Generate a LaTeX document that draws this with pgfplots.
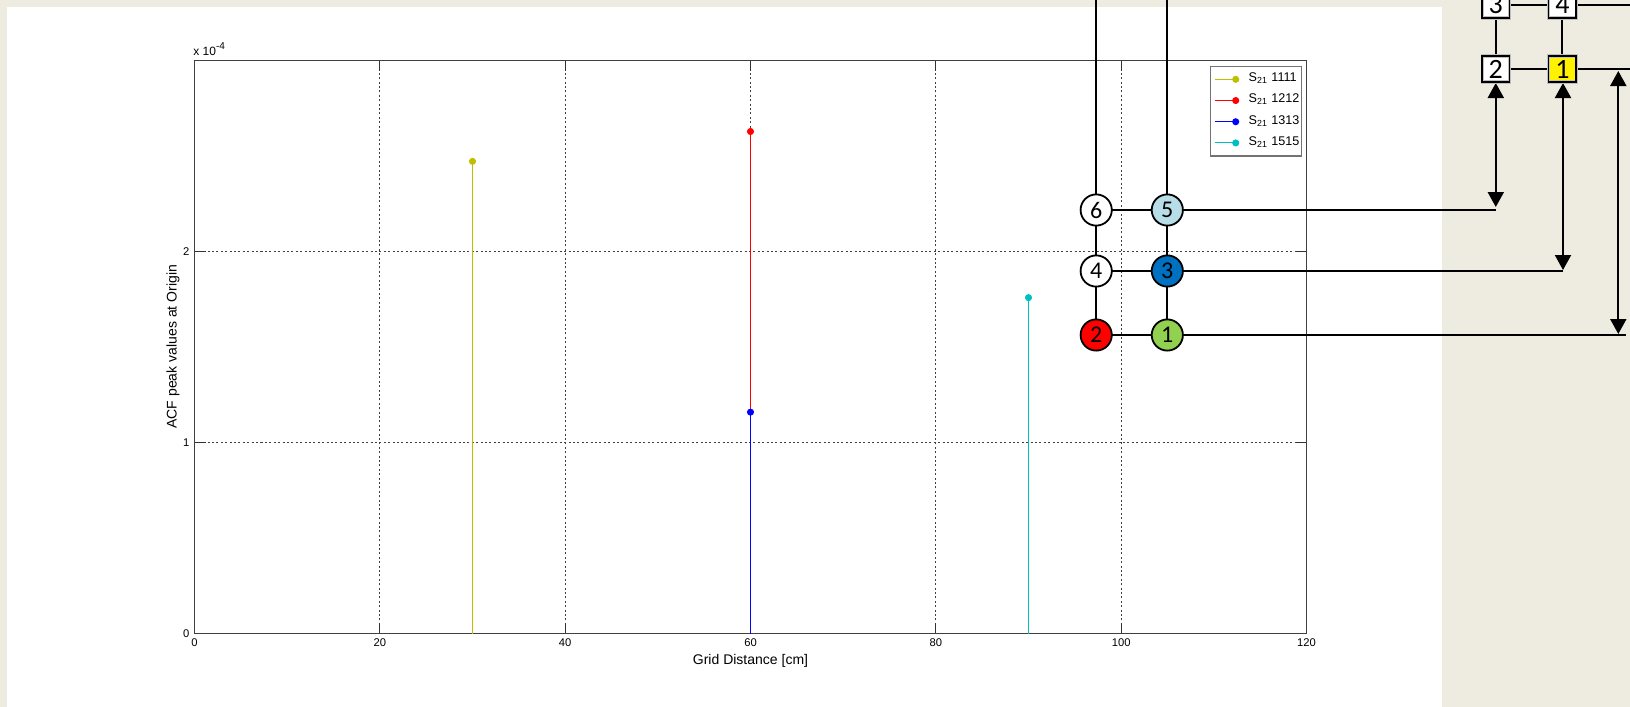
\documentclass[border=0pt]{standalone}
\usepackage{fontspec}
\setmainfont{Liberation Sans}
\newfontfamily\carl{Carlito}
\usepackage{pgfplots}
\pgfplotsset{compat=1.18}
\usetikzlibrary{arrows.meta}
\definecolor{bgtan}{HTML}{EEECE1}
\definecolor{myy}{rgb}{0.75,0.75,0}
\definecolor{myc}{rgb}{0,0.75,0.75}
\definecolor{lb}{HTML}{B7DEE8}
\definecolor{db}{HTML}{0070C0}
\definecolor{gr}{HTML}{92D050}
\begin{document}
\begin{tikzpicture}
\clip (0,0) rectangle (815pt,-353.5pt);
\fill[bgtan] (0,0) rectangle (815pt,-353.5pt);
\fill[white] (3.5pt,-3.5pt) rectangle (721pt,-353.5pt);
\begin{axis}[
  at={(97.25pt,-316.75pt)}, anchor=south west,
  scale only axis, width=556pt, height=286.75pt,
  xmin=0, xmax=120, ymin=0, ymax=3,
  xtick={0,20,40,60,80,100,120}, ytick={0,1,2},
  grid=major,
  grid style={black!75, line width=0.4pt, dash pattern=on 1pt off 1.2pt},
  axis line style={black!75, line width=0.5pt},
  tick style={black!80, line width=0.5pt},
  tick align=inside, major tick length=5.5pt,
  ticklabel style={font=\fontsize{5.6}{6.5}\selectfont},
  /pgf/number format/assume math mode=true,
  xticklabel style={yshift=1pt},
  yticklabel style={xshift=1pt},
  xlabel={Grid Distance [cm]},
  ylabel={ACF peak values at Origin},
  label style={font=\fontsize{7}{8}\selectfont},
  xlabel style={yshift=2.8pt},
  ylabel style={yshift=-5pt},
  legend cell align=left,
  legend style={at={(0.996,0.990)}, anchor=north east, draw=black!55, line width=0.6pt,
    font=\fontsize{6.3}{7}\selectfont, row sep=0pt, inner xsep=2pt, inner ysep=1.2pt,
    nodes={text height=4.5pt, text depth=2.1pt, inner ysep=2pt},
    /tikz/every odd column/.append style={column sep=3pt}},
  legend image code/.code={
    \draw[#1,sharp plot,mark repeat=2,mark phase=2] plot coordinates {(0pt,0pt)(10.5pt,0pt)};
  },
  every axis plot/.append style={ycomb, line width=0.5pt, mark=*, mark size=1.5pt},
]
\addplot[myy, mark options={fill=myy}] coordinates {(30,2.47)};
\addlegendentry{S\textsubscript{21} 1111\kern-3pt}
\addplot[red, mark options={fill=red}] coordinates {(60,2.626)};
\addlegendentry{S\textsubscript{21} 1212\kern-3pt}
\addplot[blue, mark options={fill=blue}] coordinates {(60,1.158)};
\addlegendentry{S\textsubscript{21} 1313\kern-3pt}
\addplot[myc, mark options={fill=myc}] coordinates {(90,1.757)};
\addlegendentry{S\textsubscript{21} 1515\kern-3pt}
\end{axis}
\node[anchor=base west, inner sep=0pt, font=\fontsize{6}{7}\selectfont] at (96.5pt,-27.5pt) {x 10\textsuperscript{-4}};
\begin{scope}[x=0.5pt,y=-0.5pt,line width=1pt,black]
  \draw (1096.2,0) -- (1096.2,335);
  \draw (1167.3,0) -- (1167.3,335);
  \draw (1096.2,210) -- (1167.3,210) (1096.2,271) -- (1167.3,271) (1096.2,335) -- (1167.3,335);
  \draw (1167.3,210) -- (1496,210);
  \draw (1167.3,271) -- (1563,271);
  \draw (1167.3,335) -- (1626,335);
  \draw (1495.8,5) -- (1495.8,69) (1562.4,5) -- (1562.4,69) (1495.8,5) -- (1562.4,5) (1495.8,69) -- (1562.4,69);
  \draw (1562.4,5) -- (1630,5);
  \draw[line width=1.4pt] (1562.4,69) -- (1630,69);
  \draw[{Triangle[width=8pt,length=7.5pt]}-{Triangle[width=8pt,length=7.5pt]}] (1495.8,83) -- (1495.8,207);
  \draw[{Triangle[width=8pt,length=7.5pt]}-{Triangle[width=8pt,length=7.5pt]}] (1563,83) -- (1563,270);
  \draw[{Triangle[width=8pt,length=7.5pt]}-{Triangle[width=8pt,length=7.5pt]}] (1618.3,71) -- (1618.3,334);
  \foreach \x/\y/\c/\t in {1096.2/210/white/6,1167.3/210/lb/5,1096.2/271/white/4,1167.3/271/db/3,1096.2/335/red/2,1167.3/335/gr/1}{
    \filldraw[fill=\c, draw=black, line width=0.9pt] (\x,\y) ellipse (7.8pt and 7.8pt);
    \node[inner sep=0pt, font=\carl\fontsize{12}{14}\selectfont] at (\x,\y) {\t};
  }
  \foreach \x/\y/\c/\t in {1495.8/5/white/3,1562.4/5/white/4,1495.8/69/white/2,1562.4/69/yellow/1}{
    \filldraw[fill=\c, draw=black!25, line width=1.6pt] (\x-13.7,\y-13) rectangle (\x+13.7,\y+13);
    \draw[black, line width=0.7pt] (\x-13.7,\y-13) rectangle (\x+13.7,\y+13);
    \node[inner sep=0pt, font=\carl\fontsize{14}{16}\selectfont] at (\x,\y) {\t};
  }
\end{scope}
\end{tikzpicture}
\end{document}
